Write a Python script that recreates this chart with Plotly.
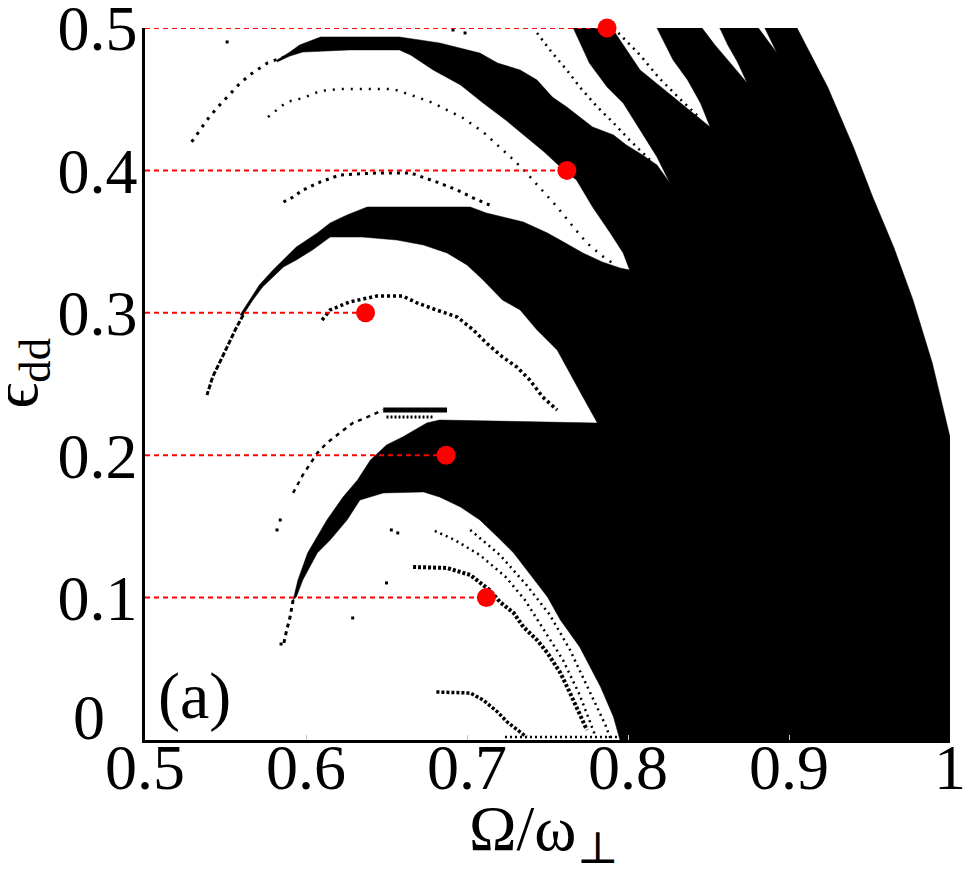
import plotly.graph_objects as go

# ---------------- axis ticks ----------------
x_tick_vals = [0.5, 0.6, 0.7, 0.8, 0.9, 1.0]
x_tick_text = ["0.5", "0.6", "0.7", "0.8", "0.9", "1"]
y_tick_vals = [0.1, 0.2, 0.3, 0.4, 0.5]
y_tick_text = ["0.1", "0.2", "0.3", "0.4", "0.5"]

# ---------------- marked (red) points ----------------
marked_omega = [0.712, 0.687, 0.637, 0.762, 0.787]
marked_eps = [0.1, 0.2, 0.3, 0.4, 0.5]

# ---------------- boundary of the black (unstable) region ----------------
top_upper_omega = [0.582, 0.590, 0.596, 0.609, 0.658, 0.683, 0.708, 0.719, 0.733, 0.7435,
                   0.753, 0.762, 0.770, 0.778, 0.791, 0.799, 0.809, 0.818, 0.826]
top_upper_eps = [0.4775, 0.4831, 0.488, 0.4937, 0.4937, 0.4895, 0.4824, 0.4754, 0.4705, 0.4635,
                 0.4515, 0.4445, 0.4375, 0.4305, 0.4249, 0.4178, 0.4108, 0.4038, 0.3912]

notch_omega = [0.818, 0.8075, 0.797, 0.787, 0.776, 0.766, 0.790, 0.8075, 0.828, 0.843, 0.851,
               0.845, 0.837, 0.828, 0.818, 0.846, 0.854, 0.863, 0.874, 0.868, 0.862, 0.857,
               0.881, 0.8925, 0.885, 0.905]
notch_eps = [0.4094, 0.4284, 0.4473, 0.4586, 0.4754, 0.5, 0.5, 0.4705, 0.4515, 0.4375, 0.4305,
             0.4473, 0.4635, 0.4775, 0.5, 0.5, 0.488, 0.4761, 0.4614, 0.4761, 0.488, 0.5,
             0.5, 0.4824, 0.5, 0.5]

right_edge_omega = [0.924, 0.940, 0.952, 0.965, 0.977, 0.989, 1.0, 1.0, 0.795]
right_edge_eps = [0.4586, 0.4164, 0.3813, 0.3462, 0.309, 0.2647, 0.2128, 0.0, 0.0]

lower_edge_omega = [0.791, 0.783, 0.770, 0.758, 0.750, 0.737, 0.729, 0.719, 0.708, 0.696,
                    0.683, 0.673, 0.648]
lower_edge_eps = [0.0162, 0.0372, 0.0653, 0.0843, 0.1004, 0.1194, 0.1313, 0.1426, 0.1545,
                  0.1636, 0.1706, 0.1742, 0.1735]

band02_lower_omega = [0.6335, 0.6255, 0.615, 0.607, 0.598, 0.594, 0.592]
band02_lower_eps = [0.1685, 0.1545, 0.1404, 0.1313, 0.1124, 0.1004, 0.0983]

band02_upper_omega = [0.595, 0.601, 0.613, 0.623, 0.632, 0.640, 0.650, 0.660, 0.675, 0.683, 0.781]
band02_upper_eps = [0.1124, 0.1313, 0.1545, 0.1706, 0.1826, 0.1966, 0.2072, 0.2128, 0.2226,
                    0.2247, 0.2226]

band035_lower_omega = [0.772, 0.764, 0.756, 0.7435, 0.733, 0.722, 0.710, 0.700, 0.6876, 0.673,
                       0.6565, 0.635, 0.615, 0.604, 0.594, 0.586, 0.5795, 0.573, 0.567, 0.561]
band035_lower_eps = [0.2409, 0.2577, 0.2739, 0.2879, 0.302, 0.309, 0.323, 0.3336, 0.342, 0.3476,
                     0.3511, 0.3532, 0.3532, 0.3441, 0.3371, 0.3322, 0.3251, 0.3181, 0.309, 0.2985]

band035_upper_omega = [0.559, 0.565, 0.571, 0.5795, 0.586, 0.594, 0.607, 0.615, 0.6255, 0.638,
                       0.702, 0.712, 0.735, 0.750, 0.760, 0.772, 0.784, 0.795, 0.801]
band035_upper_eps = [0.2985, 0.309, 0.3195, 0.3301, 0.3371, 0.3462, 0.356, 0.3631, 0.3687, 0.3743,
                     0.3743, 0.3701, 0.3638, 0.356, 0.3497, 0.342, 0.3357, 0.3315, 0.3301]

top_lower_omega = [0.797, 0.789, 0.778, 0.768, 0.762, 0.758, 0.748, 0.737, 0.724, 0.710, 0.696,
                   0.679, 0.665, 0.658, 0.627, 0.598, 0.590, 0.582]
top_lower_eps = [0.342, 0.356, 0.3743, 0.3933, 0.3989, 0.4024, 0.4129, 0.4235, 0.4354, 0.4473,
                 0.46, 0.4705, 0.481, 0.4846, 0.4846, 0.4831, 0.4803, 0.4761]

# ---------------- thin dotted curves ----------------
arc_top_omega = [0.529, 0.534, 0.5385, 0.5447, 0.551, 0.558, 0.565, 0.576, 0.586]
arc_top_eps = [0.42, 0.4284, 0.4354, 0.4438, 0.4515, 0.46, 0.467, 0.4754, 0.4796]

arc_mid_tail_omega = [0.561, 0.556, 0.5516, 0.547, 0.542, 0.5385]
arc_mid_tail_eps = [0.2985, 0.2879, 0.2774, 0.2669, 0.2549, 0.2423]

arc_low_tail_omega = [0.592, 0.590, 0.588, 0.586]
arc_low_tail_eps = [0.0983, 0.0857, 0.0772, 0.0667]

arc_upper_inner_omega = [0.5764, 0.588, 0.598, 0.609, 0.621, 0.642, 0.654, 0.669, 0.679, 0.6876,
                         0.6975, 0.710, 0.7205, 0.729, 0.737, 0.745, 0.756, 0.766, 0.7745, 0.784,
                         0.792]
arc_upper_inner_eps = [0.4375, 0.448, 0.4508, 0.4558, 0.4572, 0.4572, 0.4572, 0.4515, 0.4473,
                       0.4424, 0.4368, 0.427, 0.4164, 0.4073, 0.3982, 0.3883, 0.3743, 0.3603,
                       0.349, 0.3399, 0.3336]

arc_upper_low_omega = [0.586, 0.592, 0.598, 0.609, 0.621, 0.644, 0.665, 0.681, 0.694, 0.704, 0.714]
arc_upper_low_eps = [0.3778, 0.3813, 0.3862, 0.3919, 0.3968, 0.3982, 0.3982, 0.3919, 0.3862,
                     0.3806, 0.3757]

arc_mid_inner_omega = [0.610, 0.615, 0.627, 0.644, 0.660, 0.669, 0.681, 0.694, 0.704, 0.712,
                       0.722, 0.731, 0.739, 0.747, 0.756]
arc_mid_inner_eps = [0.2949, 0.302, 0.3076, 0.3118, 0.3118, 0.3069, 0.302, 0.297, 0.2879, 0.2788,
                     0.269, 0.2619, 0.2528, 0.2409, 0.2317]

arc_023_omega = [0.592, 0.598, 0.607, 0.613, 0.621, 0.629, 0.638, 0.648]
arc_023_eps = [0.1735, 0.1861, 0.2015, 0.2086, 0.2156, 0.2226, 0.2268, 0.2317]

bar_023_omega = [0.648, 0.6876]
bar_023_eps = [0.2317, 0.2317]

row_0227_omega = [0.650, 0.679]
row_0227_eps = [0.2268, 0.2268]

diag_a_omega = [0.702, 0.7205, 0.737, 0.7515, 0.764, 0.776, 0.786, 0.789]
diag_a_eps = [0.1475, 0.1299, 0.1088, 0.0878, 0.0632, 0.0351, 0.0105, 0.0014]

diag_b_omega = [0.680, 0.6925, 0.708, 0.724, 0.736, 0.748, 0.7596, 0.770, 0.7795]
diag_b_eps = [0.1468, 0.1404, 0.1299, 0.1145, 0.0983, 0.0772, 0.0562, 0.0316, 0.0035]

diag_c_omega = [0.6665, 0.6876, 0.702, 0.708, 0.714, 0.7205, 0.729, 0.735, 0.7435, 0.750,
                0.758, 0.764, 0.770, 0.7745]
diag_c_eps = [0.1215, 0.1208, 0.1159, 0.111, 0.1053, 0.0969, 0.0892, 0.0794, 0.0702, 0.0611,
              0.0471, 0.033, 0.019, 0.007]

small_arch_omega = [0.681, 0.702, 0.710, 0.719, 0.725, 0.731, 0.737]
small_arch_eps = [0.0337, 0.033, 0.0281, 0.0197, 0.0126, 0.007, 0.0021]

bottom_row_omega = [0.7236, 0.795]
bottom_row_eps = [0.0021, 0.0021]

stripe_a_omega = [0.7435, 0.753, 0.762, 0.770, 0.781, 0.791, 0.801, 0.8137]
stripe_a_eps = [0.4965, 0.4824, 0.4705, 0.4586, 0.4445, 0.4333, 0.4213, 0.4073]

stripe_b_omega = [0.794, 0.8075, 0.8193, 0.8317, 0.8447]
stripe_b_eps = [0.4965, 0.481, 0.4649, 0.4508, 0.4368]

dots_omega = [0.551, 0.6913, 0.6988, 0.582, 0.584, 0.629, 0.5845, 0.653, 0.657, 0.650]
dots_eps = [0.4902, 0.4986, 0.4965, 0.1475, 0.1545, 0.0857, 0.0674, 0.1475, 0.1454, 0.1103]

# ---------------- build figure ----------------
poly_omega = (top_upper_omega + notch_omega + right_edge_omega + lower_edge_omega +
              band02_lower_omega + band02_upper_omega + band035_lower_omega +
              band035_upper_omega + top_lower_omega)
poly_eps = (top_upper_eps + notch_eps + right_edge_eps + lower_edge_eps +
            band02_lower_eps + band02_upper_eps + band035_lower_eps +
            band035_upper_eps + top_lower_eps)

fig = go.Figure()
fig.add_trace(go.Scatter(x=poly_omega, y=poly_eps, mode="lines", fill="toself",
                         fillcolor="black", line=dict(color="black", width=0.5),
                         hoverinfo="skip", showlegend=False))

dotted = [
    (arc_top_omega, arc_top_eps, 3, "3px,6px"),
    (arc_mid_tail_omega, arc_mid_tail_eps, 3, "5px,2px"),
    (arc_low_tail_omega, arc_low_tail_eps, 3, "4px,4px"),
    (arc_upper_inner_omega, arc_upper_inner_eps, 2.5, "2px,7px"),
    (arc_upper_low_omega, arc_upper_low_eps, 3, "3px,5px"),
    (arc_mid_inner_omega, arc_mid_inner_eps, 3.5, "3px,3px"),
    (arc_023_omega, arc_023_eps, 2.5, "4px,5px"),
    (bar_023_omega, bar_023_eps, 5, "solid"),
    (row_0227_omega, row_0227_eps, 3, "2px,2px"),
    (diag_a_omega, diag_a_eps, 2.5, "2px,4px"),
    (diag_b_omega, diag_b_eps, 2.5, "2px,4px"),
    (diag_c_omega, diag_c_eps, 4, "3px,2px"),
    (small_arch_omega, small_arch_eps, 3.5, "3px,2px"),
    (bottom_row_omega, bottom_row_eps, 2.5, "2px,3px"),
    (stripe_a_omega, stripe_a_eps, 2.5, "2px,5px"),
    (stripe_b_omega, stripe_b_eps, 2.5, "2px,5px"),
]
for ox, ey, w, d in dotted:
    fig.add_trace(go.Scatter(x=ox, y=ey, mode="lines",
                             line=dict(color="black", width=w, dash=d),
                             hoverinfo="skip", showlegend=False))

fig.add_trace(go.Scatter(x=dots_omega, y=dots_eps, mode="markers",
                         marker=dict(symbol="square", size=3, color="black"),
                         hoverinfo="skip", showlegend=False))

# red dashed guide lines
for om, ep in zip(marked_omega, marked_eps):
    fig.add_trace(go.Scatter(x=[0.5, om], y=[ep, ep], mode="lines",
                             line=dict(color="#ff0000", width=2, dash="5px,4px"),
                             cliponaxis=False, hoverinfo="skip", showlegend=False))

fig.add_trace(go.Scatter(x=marked_omega, y=marked_eps, mode="markers",
                         marker=dict(size=19, color="#ff0000"),
                         cliponaxis=False, showlegend=False))

FONT = "Liberation Serif, DejaVu Serif, serif"
FS = 64

# the page body adds an 8px offset, so the figure is 8px smaller and margins compensate
fig.update_layout(
    width=965, height=868,
    margin=dict(l=137, r=23, t=20, b=136),
    paper_bgcolor="white", plot_bgcolor="white",
    font=dict(family=FONT, color="black"),
    xaxis=dict(range=[0.5, 1.0], tickvals=x_tick_vals, ticktext=x_tick_text,
               showgrid=False, zeroline=False, showline=True, linecolor="black",
               linewidth=3, ticks="inside", ticklen=5, tickcolor="#c8c8c8", tickwidth=1,
               tickfont=dict(size=FS, family=FONT), ticklabelstandoff=-31,
               ticklabeloverflow="allow", automargin=False),
    yaxis=dict(range=[0.0, 0.5], tickvals=y_tick_vals, ticktext=y_tick_text,
               showgrid=False, zeroline=False, showline=True, linecolor="black",
               linewidth=2.5, ticks="", tickfont=dict(size=FS, family=FONT),
               ticklabelstandoff=-8, ticklabeloverflow="allow", automargin=False),
    annotations=[
        dict(x=-0.047, y=0.031, xref="paper", yref="paper", text="0", showarrow=False,
             xanchor="right", yanchor="middle", font=dict(size=FS, family=FONT)),
        dict(x=0.496, y=-0.13, xref="paper", yref="paper", text="Ω/ω<sub>⊥</sub>",
             showarrow=False, xanchor="center", yanchor="middle",
             font=dict(size=FS, family=FONT)),
        dict(x=-0.155, y=0.515, xref="paper", yref="paper", text="ϵ<sub>dd</sub>",
             showarrow=False, textangle=-90, xanchor="center", yanchor="middle",
             font=dict(size=FS, family=FONT)),
        dict(x=0.062, y=0.062, xref="paper", yref="paper", text="(a)", showarrow=False,
             xanchor="center", yanchor="middle", font=dict(size=66, family=FONT)),
    ],
)

fig.write_html("out.html")
